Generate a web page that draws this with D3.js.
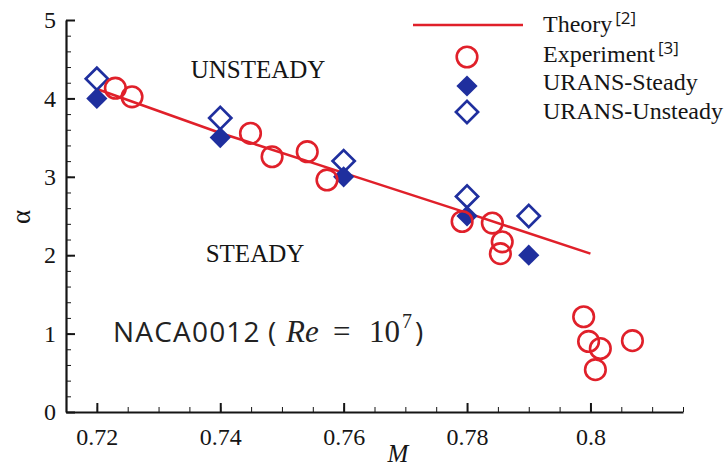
<!DOCTYPE html>
<html>
<head>
<meta charset="utf-8">
<script src="https://cdn.jsdelivr.net/npm/d3@7"></script>
<style>
  html, body { margin: 0; padding: 0; background: #fff; }
  svg { display: block; }
</style>
</head>
<body>
<svg id="chart" width="728" height="468"></svg>
<script>
// Buffet-onset boundary for NACA0012: Mach number vs angle of attack
const theoryM      = [0.72, 0.74, 0.76, 0.78, 0.80];
const theoryAlpha  = [4.12, 3.56, 3.05, 2.54, 2.02];

const experimentM     = [0.7230, 0.7257, 0.7449, 0.7484, 0.7541, 0.7573, 0.7792, 0.7841, 0.7857, 0.7854, 0.7989, 0.7997, 0.8016, 0.8008, 0.8068];
const experimentAlpha = [4.13, 4.02, 3.555, 3.256, 3.32, 2.96, 2.43, 2.41, 2.17, 2.02, 1.215, 0.90, 0.81, 0.54, 0.91];

const steadyM      = [0.72, 0.74, 0.76, 0.78, 0.79];
const steadyAlpha  = [4.0, 3.5, 3.0, 2.5, 2.0];
const unsteadyM     = [0.72, 0.74, 0.76, 0.78, 0.79];
const unsteadyAlpha = [4.25, 3.75, 3.2, 2.75, 2.5];

const xTicks = [0.72, 0.74, 0.76, 0.78, 0.80];
const xTickLabels = ["0.72", "0.74", "0.76", "0.78", "0.8"];
const yTicks = [0, 1, 2, 3, 4, 5];
const yTickLabels = ["0", "1", "2", "3", "4", "5"];

const RED = "#e0202a";
const BLUE = "#1f2f9e";
const INK = "#151515";
const SERIF = "'Liberation Serif', 'Times New Roman', serif";
const SANS = "'Open Sans', 'Noto Sans', sans-serif";

const svg = d3.select("#chart");

const x = d3.scaleLinear().domain([0.715, 0.815]).range([66, 683]);
const y = d3.scaleLinear().domain([0, 5]).range([412, 20]);

// ---- axes (ticks point into the plot) ----
const xMinor = d3.range(0.715, 0.8151, 0.005);
const yMinor = d3.range(0, 5.001, 0.2);

svg.append("g")
  .attr("transform", `translate(0,${y(0)})`)
  .call(d3.axisBottom(x).tickValues(xMinor).tickSize(-5).tickSizeOuter(0).tickFormat(""))
  .call(g => g.select(".domain").remove())
  .call(g => g.selectAll("line").attr("stroke", INK).attr("stroke-width", 1));

svg.append("g")
  .attr("transform", `translate(${x.range()[0]},0)`)
  .call(d3.axisLeft(y).tickValues(yMinor).tickSize(-5).tickSizeOuter(0).tickFormat(""))
  .call(g => g.select(".domain").remove())
  .call(g => g.selectAll("line").attr("stroke", INK).attr("stroke-width", 1));

const xAxis = svg.append("g")
  .attr("transform", `translate(0,${y(0)})`)
  .call(d3.axisBottom(x).tickValues(xTicks).tickSize(-9).tickSizeOuter(0).tickPadding(16)
    .tickFormat((d, i) => xTickLabels[i]));

const yAxis = svg.append("g")
  .attr("transform", `translate(${x.range()[0]},0)`)
  .call(d3.axisLeft(y).tickValues(yTicks).tickSize(-9).tickSizeOuter(0).tickPadding(10)
    .tickFormat((d, i) => yTickLabels[i]));

[xAxis, yAxis].forEach(g => {
  g.attr("font-family", SERIF);
  g.select(".domain").attr("stroke", INK).attr("stroke-width", 2.2);
  g.selectAll(".tick line").attr("stroke", INK).attr("stroke-width", 2);
  g.selectAll(".tick text").attr("fill", INK).attr("font-family", SERIF).attr("font-size", 24);
});

// axis titles
svg.append("text")
  .attr("x", 398).attr("y", 462)
  .attr("text-anchor", "middle")
  .attr("font-family", SERIF).attr("font-style", "italic").attr("font-size", 25)
  .attr("fill", INK).text("M");

svg.append("text")
  .attr("transform", "translate(30,217) rotate(-90)")
  .attr("text-anchor", "middle")
  .attr("font-family", SERIF).attr("font-size", 27)
  .attr("fill", INK).text("α");

// ---- region labels ----
svg.append("text").attr("x", 258).attr("y", 78).attr("text-anchor", "middle")
  .attr("font-family", SERIF).attr("font-size", 25).attr("fill", INK).text("UNSTEADY");
svg.append("text").attr("x", 255).attr("y", 262).attr("text-anchor", "middle")
  .attr("font-family", SERIF).attr("font-size", 25).attr("fill", INK).text("STEADY");

// ---- case annotation ----
const note = svg.append("g").attr("fill", "#222");
note.append("text").attr("x", 113).attr("y", 342)
  .attr("font-family", SANS).attr("font-size", 28).attr("letter-spacing", 1.2).text("NACA0012");
note.append("text").attr("x", 268).attr("y", 342)
  .attr("font-family", SANS).attr("font-size", 28).text("(");
note.append("text").attr("x", 286).attr("y", 342)
  .attr("font-family", SERIF).attr("font-style", "italic").attr("font-size", 31).text("Re");
note.append("text").attr("x", 333).attr("y", 342)
  .attr("font-family", SERIF).attr("font-size", 31).text("=");
note.append("text").attr("x", 369).attr("y", 342)
  .attr("font-family", SERIF).attr("font-size", 31).text("10");
note.append("text").attr("x", 402).attr("y", 328)
  .attr("font-family", SERIF).attr("font-size", 20).text("7");
note.append("text").attr("x", 415).attr("y", 342)
  .attr("font-family", SANS).attr("font-size", 28).text(")");

// ---- marks ----
const theory = theoryM.map((m, i) => [m, theoryAlpha[i]]);
svg.append("path")
  .datum(theory)
  .attr("fill", "none").attr("stroke", RED).attr("stroke-width", 2.6)
  .attr("d", d3.line().x(d => x(d[0])).y(d => y(d[1])));

const diamond = d3.symbol().type(d3.symbolSquare);

svg.append("g").selectAll("path")
  .data(unsteadyM.map((m, i) => [m, unsteadyAlpha[i]]))
  .join("path")
  .attr("d", diamond.size(245)())
  .attr("transform", d => `translate(${x(d[0])},${y(d[1])}) rotate(45)`)
  .attr("fill", "none").attr("stroke", BLUE).attr("stroke-width", 2.7);

svg.append("g").selectAll("path")
  .data(steadyM.map((m, i) => [m, steadyAlpha[i]]))
  .join("path")
  .attr("d", diamond.size(225)())
  .attr("transform", d => `translate(${x(d[0])},${y(d[1])}) rotate(45)`)
  .attr("fill", BLUE);

svg.append("g").selectAll("circle")
  .data(experimentM.map((m, i) => [m, experimentAlpha[i]]))
  .join("circle")
  .attr("cx", d => x(d[0])).attr("cy", d => y(d[1])).attr("r", 10.3)
  .attr("fill", "none").attr("stroke", RED).attr("stroke-width", 2.6);

// ---- legend ----
const legend = svg.append("g");
const lx = 467, tx = 543;
legend.append("line").attr("x1", 413).attr("x2", 523).attr("y1", 25).attr("y2", 25)
  .attr("stroke", RED).attr("stroke-width", 2.6);
legend.append("circle").attr("cx", lx).attr("cy", 57).attr("r", 10.3)
  .attr("fill", "none").attr("stroke", RED).attr("stroke-width", 2.6);
legend.append("path").attr("d", diamond.size(225)())
  .attr("transform", `translate(${lx},86) rotate(45)`).attr("fill", BLUE);
legend.append("path").attr("d", diamond.size(245)())
  .attr("transform", `translate(${lx},112) rotate(45)`)
  .attr("fill", "none").attr("stroke", BLUE).attr("stroke-width", 2.7);

const legendRows = [
  { label: "Theory", ref: "[2]", y: 32 },
  { label: "Experiment", ref: "[3]", y: 62 },
  { label: "URANS-Steady", ref: "", y: 90 },
  { label: "URANS-Unsteady", ref: "", y: 119 }
];
legendRows.forEach(r => {
  const t = legend.append("text").attr("x", tx).attr("y", r.y)
    .attr("font-family", SERIF).attr("font-size", 24).attr("fill", INK);
  t.append("tspan").text(r.label);
  if (r.ref) {
    t.append("tspan").attr("dx", 3).attr("dy", -8)
      .attr("font-family", SANS).attr("font-size", 17).text(r.ref);
  }
});
</script>
</body>
</html>
